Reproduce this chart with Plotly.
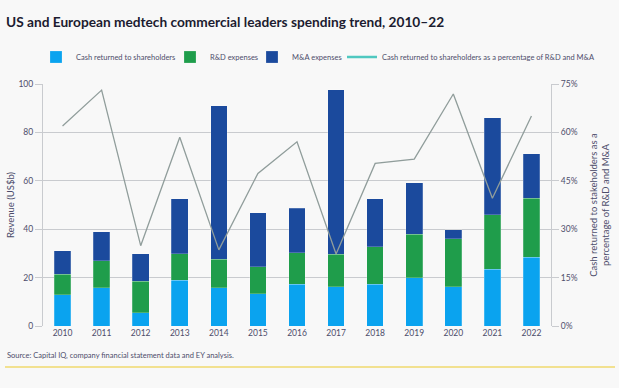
import plotly.graph_objects as go

years = ["2010", "2011", "2012", "2013", "2014", "2015", "2016",
         "2017", "2018", "2019", "2020", "2021", "2022"]
cash_returned = [12.9, 15.9, 5.5, 19.0, 15.9, 13.3, 17.3, 16.2, 17.3, 19.9, 16.2, 23.5, 28.4]
rd_expenses = [8.5, 11.0, 12.9, 10.9, 11.7, 11.1, 12.9, 13.5, 15.4, 18.1, 19.8, 22.4, 24.3]
ma_expenses = [9.6, 12.0, 11.5, 22.7, 63.5, 22.4, 18.5, 68.0, 19.9, 21.1, 3.8, 40.1, 18.5]
cash_pct = [62.0, 73.1, 24.9, 58.5, 23.6, 47.3, 57.1, 22.3, 50.4, 51.7, 71.9, 39.6, 65.1]

FONT = "Lato"
TXT = "#4d4d6b"
GRID = "#c9cbcf"
PL, PR, PT, PB = 43, 551, 84, 326  # plot area in px
PW, PH = PR - PL, PB - PT

def py(px_y):
    return (PB - px_y) / PH

def px(px_x):
    return (px_x - PL) / PW

fig = go.Figure()
bar_line = dict(color="rgba(255,255,255,0.35)", width=0.6)
fig.add_trace(go.Bar(x=years, y=cash_returned, name="Cash returned to shareholders",
                     marker=dict(color="#0aa3ef", line=bar_line), legend="legend"))
fig.add_trace(go.Bar(x=years, y=rd_expenses, name="R&D expenses",
                     marker=dict(color="#1f9d4b", line=bar_line), legend="legend2"))
fig.add_trace(go.Bar(x=years, y=ma_expenses, name="M&A expenses",
                     marker=dict(color="#1b4a9d", line=bar_line), legend="legend3"))
fig.add_trace(go.Scatter(x=years, y=cash_pct, yaxis="y2", mode="lines",
                         line=dict(color="#909d9b", width=1.3), showlegend=False,
                         name="Cash returned to shareholders as a percentage of R&D and M&A"))
fig.add_trace(go.Scatter(x=[None], y=[None], yaxis="y2", mode="lines",
                         line=dict(color="#4fc8c0", width=2.5), legend="legend4",
                         name="Cash returned to shareholders as a percentage of R&D and M&A"))

leg_common = dict(orientation="h", yanchor="middle", y=py(57), xanchor="left",
                  font=dict(size=7.5, color=TXT, family=FONT), bgcolor="rgba(0,0,0,0)",
                  itemwidth=30, tracegroupgap=0, traceorder="normal", borderwidth=0)

fig.update_layout(
    width=619, height=388,
    barmode="stack", bargap=0.574,
    paper_bgcolor="#f8f8f8", plot_bgcolor="#f8f8f8",
    margin=dict(l=PL, r=619 - PR, t=PT, b=388 - PB, autoexpand=False),
    font=dict(family=FONT, color=TXT, size=9),
    title=dict(text="US and European medtech commercial leaders spending trend, 2010–22",
               x=6 / 619, xanchor="left", y=1 - 22 / 388, yanchor="middle",
               font=dict(family=FONT, size=13.7, color="#1c1c30", weight=700)),
    legend=dict(leg_common, x=px(36)),
    legend2=dict(leg_common, x=px(170)),
    legend3=dict(leg_common, x=px(252)),
    legend4=dict(leg_common, x=px(342)),
    xaxis=dict(type="category", showgrid=False, showline=False, ticks="",
               tickfont=dict(size=8.5, color=TXT), range=[-0.5, 12.5], automargin=False),
    yaxis=dict(range=[0, 100], dtick=20, showgrid=True, gridcolor=GRID, gridwidth=1.2,
               showline=True, linecolor=GRID, linewidth=1.2,
               ticks="outside", ticklen=7, tickcolor=GRID, tickwidth=1.2,
               tickfont=dict(size=8.5, color=TXT), zeroline=False, automargin=False,
               title=dict(text="Revenue (US$b)", font=dict(size=9.5, color=TXT), standoff=2)),
    yaxis2=dict(range=[0, 75], dtick=15, overlaying="y", side="right", showgrid=False,
                showline=True, linecolor=GRID, linewidth=1.2,
                ticks="outside", ticklen=7, tickcolor=GRID, tickwidth=1.2,
                ticksuffix="%", tickfont=dict(size=8.5, color=TXT), zeroline=False,
                automargin=False,
                title=dict(text="Cash returned to stakeholders as a<br>percentage of R&D and M&A",
                           font=dict(size=9.5, color=TXT), standoff=13)),
)

fig.add_annotation(text="Source: Capital IQ, company financial statement data and EY analysis.",
                   xref="paper", yref="paper", x=px(5), xanchor="left",
                   y=py(355), yanchor="middle", showarrow=False,
                   font=dict(size=7.5, color=TXT))
fig.add_shape(type="line", xref="paper", yref="paper",
              x0=px(5), x1=px(615), y0=py(367), y1=py(367),
              line=dict(color="#f1da6e", width=1.5))

fig.write_html("out.html", config={"displayModeBar": False},
               post_script="document.body.style.margin='0px';")
